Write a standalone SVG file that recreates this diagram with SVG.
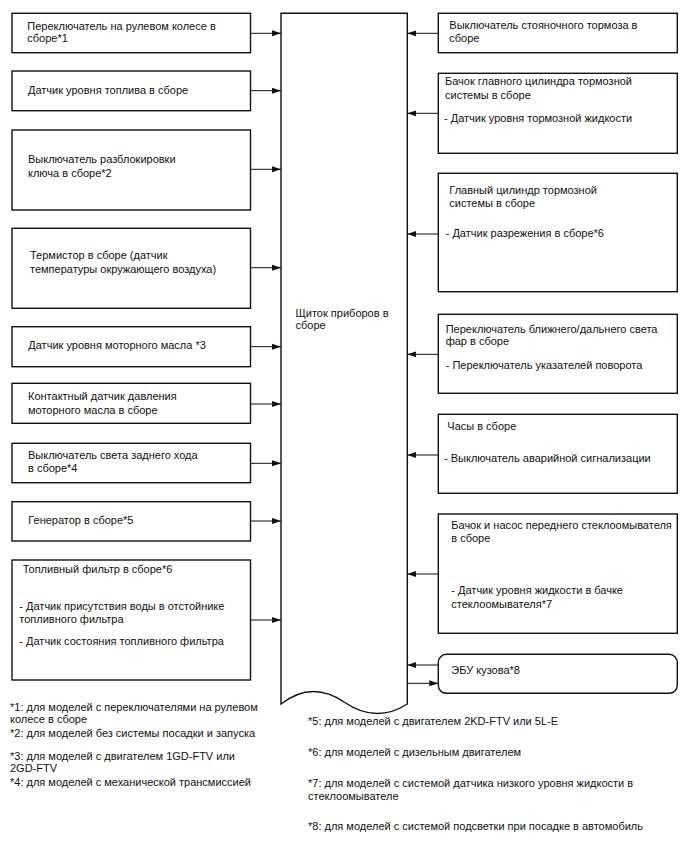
<svg xmlns="http://www.w3.org/2000/svg" width="688" height="852" viewBox="0 0 688 852">
<style>
.box{fill:#fff;stroke:#111;stroke-width:1.4}
.t{font-family:"Liberation Sans",Arial,sans-serif;font-size:11px;fill:#111}
.c{stroke:#111;stroke-width:1;fill:none;marker-end:url(#ah)}
</style>
<defs>
<marker id="ah" markerWidth="9" markerHeight="7" refX="9" refY="3.5" orient="auto" markerUnits="userSpaceOnUse"><path d="M0,0.5 L9,3.5 L0,6.5 z" fill="#111"/></marker>
</defs>
<rect width="688" height="852" fill="#fff"/>
<g id="center">
<path class="box" d="M281,13.3 H407.3 V704 Q376,724 344,702 Q312,680 281,704 Z"/>
<text class="t" x="295.5" y="316.7">Щиток приборов в</text>
<text class="t" x="295.5" y="328.7">сборе</text>
</g>
<g id="L1"><rect class="box" x="12" y="13.3" width="238.5" height="39.4"/>
<text class="t" x="27.3" y="30">Переключатель на рулевом колесе в</text>
<text class="t" x="27.3" y="42">сборе*1</text></g>
<g id="L2"><rect class="box" x="12" y="71" width="238.5" height="39.7"/>
<text class="t" x="28" y="94">Датчик уровня топлива в сборе</text></g>
<g id="L3"><rect class="box" x="12" y="130" width="238.5" height="80"/>
<text class="t" x="28" y="163.3">Выключатель разблокировки</text>
<text class="t" x="28" y="176.7">ключа в сборе*2</text></g>
<g id="L4"><rect class="box" x="12" y="228.3" width="238.5" height="80"/>
<text class="t" x="30" y="259">Термистор в сборе (датчик</text>
<text class="t" x="30" y="272.7">температуры окружающего воздуха)</text></g>
<g id="L5"><rect class="box" x="12" y="326.7" width="238.5" height="40"/>
<text class="t" x="28.3" y="349.3">Датчик уровня моторного масла *3</text></g>
<g id="L6"><rect class="box" x="12" y="383.3" width="238.5" height="40"/>
<text class="t" x="28" y="400.3">Контактный датчик давления</text>
<text class="t" x="28" y="414.3">моторного масла в сборе</text></g>
<g id="L7"><rect class="box" x="12" y="443.3" width="238.5" height="39.4"/>
<text class="t" x="28" y="459">Выключатель света заднего хода</text>
<text class="t" x="28" y="471.7">в сборе*4</text></g>
<g id="L8"><rect class="box" x="12" y="501.7" width="238.5" height="39.3"/>
<text class="t" x="28.3" y="524">Генератор в сборе*5</text></g>
<g id="L9"><rect class="box" x="12" y="560" width="238.5" height="120"/>
<text class="t" x="22.7" y="572.7">Топливный фильтр в сборе*6</text>
<text class="t" x="19.3" y="610">- Датчик присутствия воды в отстойнике</text>
<text class="t" x="19.3" y="622.7">топливного фильтра</text>
<text class="t" x="19.3" y="645">- Датчик состояния топливного фильтра</text></g>
<g id="R1"><rect class="box" x="438.3" y="13.3" width="239" height="39.4"/>
<text class="t" x="449.3" y="29.3">Выключатель стояночного тормоза в</text>
<text class="t" x="449.3" y="41.5">сборе</text></g>
<g id="R2"><rect class="box" x="438.3" y="73.3" width="239" height="80"/>
<text class="t" x="445" y="85">Бачок главного цилиндра тормозной</text>
<text class="t" x="445" y="99">системы в сборе</text>
<text class="t" x="444" y="121.7">- Датчик уровня тормозной жидкости</text></g>
<g id="R3"><rect class="box" x="438.3" y="173.3" width="239" height="118.4"/>
<text class="t" x="449.3" y="194">Главный цилиндр тормозной</text>
<text class="t" x="449.3" y="206.7">системы в сборе</text>
<text class="t" x="445.7" y="236.7">- Датчик разрежения в сборе*6</text></g>
<g id="R4"><rect class="box" x="438.3" y="314.3" width="239" height="79"/>
<text class="t" x="445.7" y="333.3">Переключатель ближнего/дальнего света</text>
<text class="t" x="445.7" y="345.3">фар в сборе</text>
<text class="t" x="445.7" y="369.3">- Переключатель указателей поворота</text></g>
<g id="R5"><rect class="box" x="438.3" y="414.3" width="239" height="79"/>
<text class="t" x="447.3" y="430">Часы в сборе</text>
<text class="t" x="444" y="462.3">- Выключатель аварийной сигнализации</text></g>
<g id="R6"><rect class="box" x="438.3" y="514" width="239" height="119.3"/>
<text class="t" x="451.3" y="529">Бачок и насос переднего стеклоомывателя</text>
<text class="t" x="451.3" y="541.7">в сборе</text>
<text class="t" x="451.3" y="594.3">- Датчик уровня жидкости в бачке</text>
<text class="t" x="451.3" y="607.7">стеклоомывателя*7</text></g>
<g id="R7"><rect class="box" x="438.3" y="654.3" width="239" height="39" rx="8" ry="8"/>
<text class="t" x="451.3" y="674.3">ЭБУ кузова*8</text></g>
<g id="connectors">
<line class="c" x1="250.5" y1="33.3" x2="281" y2="33.3"/>
<line class="c" x1="250.5" y1="90.7" x2="281" y2="90.7"/>
<line class="c" x1="250.5" y1="169.3" x2="281" y2="169.3"/>
<line class="c" x1="250.5" y1="267.7" x2="281" y2="267.7"/>
<line class="c" x1="250.5" y1="346.7" x2="281" y2="346.7"/>
<line class="c" x1="250.5" y1="404" x2="281" y2="404"/>
<line class="c" x1="250.5" y1="463.3" x2="281" y2="463.3"/>
<line class="c" x1="250.5" y1="521" x2="281" y2="521"/>
<line class="c" x1="250.5" y1="620" x2="281" y2="620"/>
<line class="c" x1="438.3" y1="33.3" x2="407.3" y2="33.3"/>
<line class="c" x1="438.3" y1="113.3" x2="407.3" y2="113.3"/>
<line class="c" x1="438.3" y1="234" x2="407.3" y2="234"/>
<line class="c" x1="438.3" y1="354.3" x2="407.3" y2="354.3"/>
<line class="c" x1="438.3" y1="455" x2="407.3" y2="455"/>
<line class="c" x1="438.3" y1="574" x2="407.3" y2="574"/>
<line class="c" x1="438.3" y1="665" x2="407.3" y2="665"/>
<line class="c" x1="407.3" y1="683.3" x2="438.3" y2="683.3"/>
</g>
<g id="notes">
<text class="t" x="10" y="711.3">*1: для моделей с переключателями на рулевом</text>
<text class="t" x="10" y="723.3">колесе в сборе</text>
<text class="t" x="10" y="737.3">*2: для моделей без системы посадки и запуска</text>
<text class="t" x="10" y="760">*3: для моделей с двигателем 1GD-FTV или</text>
<text class="t" x="10" y="771.7">2GD-FTV</text>
<text class="t" x="10" y="785.7">*4: для моделей с механической трансмиссией</text>
<text class="t" x="308" y="725">*5: для моделей с двигателем 2KD-FTV или 5L-E</text>
<text class="t" x="308" y="756">*6: для моделей с дизельным двигателем</text>
<text class="t" x="308" y="787.3">*7: для моделей с системой датчика низкого уровня жидкости в</text>
<text class="t" x="308" y="800">стеклоомывателе</text>
<text class="t" x="308" y="830">*8: для моделей с системой подсветки при посадке в автомобиль</text>
</g>
</svg>
